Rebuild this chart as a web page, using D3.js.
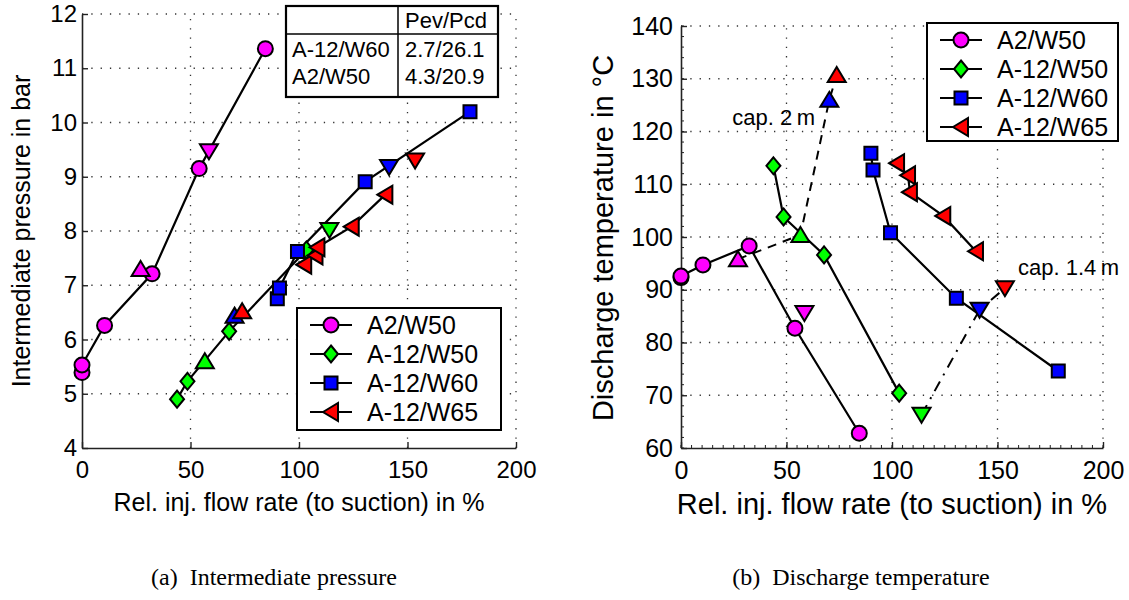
<!DOCTYPE html>
<html>
<head>
<meta charset="utf-8">
<script src="https://cdn.jsdelivr.net/npm/d3@7"></script>
<style>
body { margin: 0; background: #fff; }
text { font-family: "Liberation Sans", Arial, Helvetica, sans-serif; fill: #000; }
.caption { font-family: "Liberation Serif", "Times New Roman", serif; }
</style>
</head>
<body>
<svg id="fig" width="1129" height="600"></svg>
<script>
// series names (legend order)
var seriesNames = ["A2/W50", "A-12/W50", "A-12/W60", "A-12/W65"];

// rel. injection flow rate in % and measured values, per series
var flowA2W50 = [0, 0, 10.4, 32.3, 54, 84.5];
var presA2W50 = [5.39, 5.53, 6.26, 7.21, 9.15, 11.36];
var tempA2W50 = [92.3, 92.6, 94.7, 98.3, 82.7, 62.8];

var flowA12W50 = [43.8, 48.6, 67.8, 103.4];
var presA12W50 = [4.9, 5.23, 6.15, 7.65];
var tempA12W50 = [113.5, 103.8, 96.6, 70.4];

var flowA12W60 = [90, 91, 99.3, 130.5, 178.8];
var presA12W60 = [6.75, 6.95, 7.62, 8.91, 10.2];
var tempA12W60 = [115.9, 112.7, 100.8, 88.4, 74.6];

var flowA12W65 = [102.4, 107.6, 108.5, 124.3, 139.8];
var presA12W65 = [7.38, 7.55, 7.7, 8.08, 8.67];
var tempA12W65 = [114, 111.7, 108.5, 104, 97.3];

// capillary points, one per series (same order as seriesNames)
var flowCap2 = [27, 56.6, 70.3, 73.8];
var presCap2 = [7.3, 5.6, 6.44, 6.52];
var tempCap2 = [95.8, 100.4, 126, 130.7];

var flowCap14 = [58.5, 114, 141.5, 153.5];
var presCap14 = [9.47, 8.02, 9.18, 9.3];
var tempCap14 = [85.6, 66.3, 86.2, 90.3];

// pressure table
var tableHeader = ["", "Pev/Pcd"];
var tableRows = [["A-12/W60", "2.7/26.1"], ["A2/W50", "4.3/20.9"]];

// axis ticks
var flowTicks = [0, 50, 100, 150, 200];
var presTicks = [4, 5, 6, 7, 8, 9, 10, 11, 12];
var tempTicks = [60, 70, 80, 90, 100, 110, 120, 130, 140];

var colors = ["#ff00ff", "#00ff00", "#0000ff", "#ff0000"];
var shapes = ["circle", "diamond", "square", "triLeft"];

var svg = d3.select("#fig");

function markerPath(shape) {
    var p = d3.path();
    if (shape == "circle") {
        p.moveTo(7.5, 0);
        p.arc(0, 0, 7.5, 0, 2 * Math.PI);
    } else if (shape == "square") {
        p.rect(-6.5, -6.5, 13, 13);
    } else if (shape == "diamond") {
        p.moveTo(0, -8.5); p.lineTo(7, 0); p.lineTo(0, 8.5); p.lineTo(-7, 0);
    } else if (shape == "triUp") {
        p.moveTo(0, -8); p.lineTo(9, 7); p.lineTo(-9, 7);
    } else if (shape == "triDown") {
        p.moveTo(0, 8); p.lineTo(9, -7); p.lineTo(-9, -7);
    } else if (shape == "triLeft") {
        p.moveTo(-8, 0); p.lineTo(7, -9); p.lineTo(7, 9);
    }
    p.closePath();
    return p.toString();
}

function drawMarkers(g, pts, shape, color) {
    g.selectAll(null)
    .data(pts)
    .enter()
    .append("path")
    .attr("d", markerPath(shape))
    .attr("transform", function(d) {return "translate(" + d[0] + "," + d[1] + ")";})
    .attr("fill", color)
    .attr("stroke", "#000")
    .attr("stroke-width", 2);
}

function drawPanel(o) {
    var x = d3.scaleLinear().domain([0, 200]).range([o.x0, o.x1]);
    var y = d3.scaleLinear().domain([o.yTicks[0], o.yTicks[o.yTicks.length - 1]]).range([448, o.y1]);
    var g = svg.append("g");

    // dotted grid
    g.selectAll(null).data(flowTicks.slice(1)).enter().append("line")
    .attr("x1", function(d) {return x(d);}).attr("x2", function(d) {return x(d);})
    .attr("y1", y.range()[0]).attr("y2", y.range()[1])
    .attr("stroke", "#333").attr("stroke-width", 1.3).attr("stroke-dasharray", "1.3,8");
    g.selectAll(null).data(o.yTicks.slice(1)).enter().append("line")
    .attr("x1", x.range()[0]).attr("x2", x.range()[1])
    .attr("y1", function(d) {return y(d);}).attr("y2", function(d) {return y(d);})
    .attr("stroke", "#333").attr("stroke-width", 1.3).attr("stroke-dasharray", "1.3,8");

    // minor ticks
    if (o.minor) {
        g.selectAll(null).data(d3.range(0, 201, 5)).enter().append("line")
        .attr("x1", function(d) {return x(d);}).attr("x2", function(d) {return x(d);})
        .attr("y1", 448).attr("y2", 445).attr("stroke", "#222");
        g.selectAll(null).data(d3.range(o.yTicks[0], o.yTicks[o.yTicks.length - 1] + 1, 2)).enter().append("line")
        .attr("x1", o.x0).attr("x2", o.x0 + 3)
        .attr("y1", function(d) {return y(d);}).attr("y2", function(d) {return y(d);})
        .attr("stroke", "#222");
    }

    var ax = g.append("g").attr("transform", "translate(0,448)")
    .call(d3.axisBottom(x).tickValues(flowTicks).tickSize(-6).tickPadding(13).tickSizeOuter(0));
    var ay = g.append("g").attr("transform", "translate(" + o.x0 + ",0)")
    .call(d3.axisLeft(y).tickValues(o.yTicks).tickSize(-6).tickPadding(o.yPad).tickSizeOuter(0));
    [ax, ay].forEach(function(a) {
        a.select(".domain").attr("stroke", "#222").attr("stroke-width", 1.6);
        a.selectAll(".tick line").attr("stroke", "#222").attr("stroke-width", 1.4);
        a.selectAll("text").attr("font-size", o.tickFont + "px").attr("fill", "#000")
        .style("font-family", '"Liberation Sans", Arial, sans-serif');
    });

    // axis titles
    g.append("text").attr("x", (o.x0 + o.x1) / 2).attr("y", o.xTitleY)
    .attr("text-anchor", "middle").attr("font-size", o.titleFont + "px").text(o.xTitle);
    g.append("text").attr("transform", "translate(" + o.yTitleX + "," + o.yTitleMid + ") rotate(-90)")
    .attr("text-anchor", "middle").attr("font-size", o.yTitleFont + "px").text(o.yTitle);

    // capillary connection lines
    if (o.capLines) {
        g.append("path")
        .attr("d", d3.line()(o.flows2.map(function(f, i) {return [x(f), y(o.cap2[i])];})))
        .attr("fill", "none").attr("stroke", "#000").attr("stroke-width", 2).attr("stroke-dasharray", "9,7");
        var c14 = o.flows14.map(function(f, i) {return [x(f), y(o.cap14[i])];}).slice(1);
        g.append("path")
        .attr("d", d3.line()(c14))
        .attr("fill", "none").attr("stroke", "#000").attr("stroke-width", 2).attr("stroke-dasharray", "11,7,2,7");
    }

    // series lines and markers
    o.series.forEach(function(s, i) {
        var pts = s.flow.map(function(f, j) {return [x(f), y(s.val[j])];});
        g.append("path").attr("d", d3.line()(pts))
        .attr("fill", "none").attr("stroke", "#000").attr("stroke-width", 2.2);
    });
    o.series.forEach(function(s, i) {
        var pts = s.flow.map(function(f, j) {return [x(f), y(s.val[j])];});
        drawMarkers(g, pts, shapes[i], colors[i]);
    });
    o.flows2.forEach(function(f, i) {
        drawMarkers(g, [[x(f), y(o.cap2[i])]], "triUp", colors[i]);
    });
    o.flows14.forEach(function(f, i) {
        drawMarkers(g, [[x(f), y(o.cap14[i])]], "triDown", colors[i]);
    });

    // legend
    var lg = g.append("g");
    lg.append("rect").attr("x", o.legend[0]).attr("y", o.legend[1])
    .attr("width", o.legend[2]).attr("height", o.legend[3])
    .attr("fill", "#fff").attr("stroke", "#000").attr("stroke-width", 2);
    seriesNames.forEach(function(n, i) {
        var ly = o.legend[1] + 17 + i * 29;
        var lx = o.legend[0] + 13;
        lg.append("line").attr("x1", lx).attr("x2", lx + 42).attr("y1", ly).attr("y2", ly)
        .attr("stroke", "#000").attr("stroke-width", 2);
        drawMarkers(lg, [[lx + 21, ly]], shapes[i], colors[i]);
        lg.append("text").attr("x", lx + 57).attr("y", ly + 8.5)
        .attr("font-size", o.legendFont + "px").text(n);
    });
    return {x: x, y: y, g: g};
}

var left = drawPanel({
    x0: 82, x1: 516, y1: 14, yTicks: presTicks, yPad: 5, tickFont: 24, minor: false,
    titleFont: 25, xTitle: "Rel. inj. flow rate (to suction) in %", xTitleY: 511,
    yTitle: "Intermediate pressure in bar", yTitleX: 30, yTitleMid: 231, yTitleFont: 25,
    series: [
        {flow: flowA2W50, val: presA2W50},
        {flow: flowA12W50, val: presA12W50},
        {flow: flowA12W60, val: presA12W60},
        {flow: flowA12W65, val: presA12W65}
    ],
    flows2: flowCap2, cap2: presCap2, flows14: flowCap14, cap14: presCap14,
    capLines: false, legend: [297, 308, 204, 122], legendFont: 25
});

var right = drawPanel({
    x0: 681, x1: 1103, y1: 26, yTicks: tempTicks, yPad: 8, tickFont: 25, minor: true,
    titleFont: 29, xTitle: "Rel. inj. flow rate (to suction) in %", xTitleY: 514,
    yTitle: "Discharge temperature in \u00b0C", yTitleX: 613, yTitleMid: 238, yTitleFont: 29,
    series: [
        {flow: flowA2W50, val: tempA2W50},
        {flow: flowA12W50, val: tempA12W50},
        {flow: flowA12W60, val: tempA12W60},
        {flow: flowA12W65, val: tempA12W65}
    ],
    flows2: flowCap2, cap2: tempCap2, flows14: flowCap14, cap14: tempCap14,
    capLines: true, legend: [927, 23, 191, 118], legendFont: 25
});

// capillary labels
right.g.append("text").attr("x", 815).attr("y", 125).attr("text-anchor", "end")
.attr("font-size", "22px").text("cap. 2\u2009m");
right.g.append("text").attr("x", 1018).attr("y", 275)
.attr("font-size", "22px").text("cap. 1.4\u2009m");

// table in the pressure plot
var tb = svg.append("g");
tb.append("rect").attr("x", 286).attr("y", 6).attr("width", 212).attr("height", 91)
.attr("fill", "#fff").attr("stroke", "#000").attr("stroke-width", 2.2);
tb.append("line").attr("x1", 286).attr("x2", 498).attr("y1", 34).attr("y2", 34)
.attr("stroke", "#000").attr("stroke-width", 1.5);
tb.append("line").attr("x1", 398).attr("x2", 398).attr("y1", 6).attr("y2", 97)
.attr("stroke", "#000").attr("stroke-width", 1.5);
var colX = [292, 405];
tableHeader.forEach(function(h, c) {
    tb.append("text").attr("x", colX[c]).attr("y", 28).attr("font-size", "22px").text(h);
});
tableRows.forEach(function(r, i) {
    r.forEach(function(v, c) {
        tb.append("text").attr("x", colX[c]).attr("y", 57 + i * 27).attr("font-size", "22px").text(v);
    });
});

// captions
svg.append("text").attr("class", "caption").attr("x", 274).attr("y", 585)
.attr("text-anchor", "middle").attr("font-size", "24px").attr("xml:space", "preserve").text("(a)  Intermediate pressure");
svg.append("text").attr("class", "caption").attr("x", 861).attr("y", 585)
.attr("text-anchor", "middle").attr("font-size", "24px").attr("xml:space", "preserve").text("(b)  Discharge temperature");
</script>
</body>
</html>
